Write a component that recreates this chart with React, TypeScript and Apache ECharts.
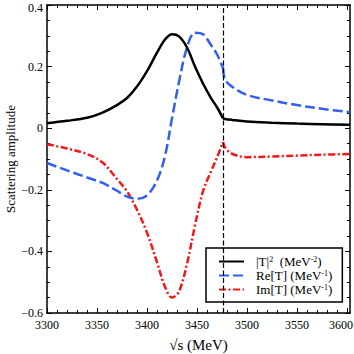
import React, { useEffect, useRef } from "react";
import * as echarts from "echarts";

// Energy grid (MeV) and amplitudes
const energy = [3300, 3320, 3340, 3355, 3370, 3380, 3390, 3400, 3410, 3418, 3425, 3432, 3440, 3448, 3456, 3464, 3470, 3476, 3478, 3485, 3500, 3525, 3550, 3575, 3603];
const absT2 = [0.016, 0.024, 0.034, 0.05, 0.075, 0.098, 0.135, 0.185, 0.245, 0.288, 0.305, 0.298, 0.262, 0.2, 0.145, 0.098, 0.068, 0.032, 0.03, 0.027, 0.022, 0.018, 0.015, 0.013, 0.011];
const reT = [-0.113, -0.137, -0.16, -0.177, -0.203, -0.222, -0.229, -0.218, -0.17, -0.09, 0.032, 0.15, 0.262, 0.31, 0.305, 0.27, 0.24, 0.195, 0.158, 0.135, 0.108, 0.09, 0.075, 0.063, 0.052];
const imT = [-0.052, -0.066, -0.084, -0.11, -0.165, -0.205, -0.265, -0.339, -0.435, -0.515, -0.55, -0.53, -0.44, -0.315, -0.205, -0.14, -0.095, -0.045, -0.062, -0.083, -0.094, -0.092, -0.089, -0.086, -0.084];
const THRESHOLD = 3476;

const xMajorTicks = [3300, 3350, 3400, 3450, 3500, 3550, 3600];
const X_MIN = 3300;
const X_MAX = 3603;
const Y_MIN = -0.6;
const Y_MAX = 0.4;

const names = ["|T|^2", "Re[T]", "Im[T]"];
const legendText: Record<string, string> = {
  "|T|^2": "{g| }{t||T|}{sup|2}{t|  (MeV}{sup|-2}{t|)}",
  "Re[T]": "{g| }{t|Re[T] (MeV}{sup|-1}{t|)}",
  "Im[T]": "{g| }{t|Im[T] (MeV}{sup|-1}{t|)}",
};

const FONT = "Liberation Serif";

export default function App() {
  const ref = useRef<HTMLDivElement>(null);
  useEffect(() => {
    if (!ref.current) return;
    const chart = echarts.init(ref.current, undefined, { renderer: "svg" });

    const low = (arr: number[]) => energy.map((e, i) => [e, arr[i]] as [number, number]).filter((p) => p[0] <= THRESHOLD);
    const high = (arr: number[]) => energy.map((e, i) => [e, arr[i]] as [number, number]).filter((p) => p[0] >= THRESHOLD);

    const xMinor: number[] = [];
    for (let v = X_MIN; v <= 3600; v += 10) if (v % 50 !== 0) xMinor.push(v);

    const styles = [
      { color: "#000000", width: 2.5, type: "solid" as any },
      { color: "#3060f0", width: 2.5, type: [10, 4] as any },
      { color: "#f01818", width: 2.5, type: [7, 2.5, 2, 2.5] as any },
    ];
    const datas = [absT2, reT, imT];
    const series: any[] = [];
    datas.forEach((d, k) => {
      [low(d), high(d)].forEach((seg, j) => {
        series.push({
          type: "line",
          name: names[k],
          data: seg,
          xAxisIndex: 0,
          yAxisIndex: 0,
          smooth: 0.35,
          symbol: "none",
          showSymbol: false,
          color: styles[k].color,
          lineStyle: { ...styles[k] },
          z: 3 - k,
          ...(k === 0 && j === 0
            ? {
                markLine: {
                  silent: true,
                  symbol: "none",
                  label: { show: false },
                  lineStyle: { color: "#000", width: 1.2, type: [5, 2.5] },
                  data: [{ xAxis: THRESHOLD }],
                },
              }
            : {}),
        });
      });
    });

    const axisLine = { show: true, onZero: false, lineStyle: { color: "#000", width: 1.5 } };
    const noLine = { show: false, onZero: false };
    const tickLine = { color: "#000", width: 1 };
    const xBase = { type: "value", min: X_MIN, max: X_MAX, splitLine: { show: false } };
    const yBase = { type: "value", min: Y_MIN, max: Y_MAX, interval: 0.2, splitLine: { show: false } };

    const yFmt = (v: number) => {
      const s = Math.abs(v) < 1e-9 ? "0" : (v < 0 ? "\u2212" : "") + Math.abs(v).toFixed(1);
      return Math.abs(v - Y_MAX) < 1e-9 ? "{top|" + s + "}" : s;
    };

    chart.setOption({
      animation: false,
      backgroundColor: "#ffffff",
      grid: { left: 47, right: 4, top: 5, bottom: 41, containLabel: false, outerBoundsMode: "none" },
      legend: {
        data: names,
        orient: "vertical",
        left: 206,
        top: 248,
        itemWidth: 25,
        itemHeight: 12,
        itemGap: 1,
        padding: [7, 10, 6, 12],
        backgroundColor: "#ffffff",
        borderColor: "#000",
        borderWidth: 1.5,
        borderRadius: 0,
        itemStyle: { opacity: 0, borderWidth: 0 },
        formatter: (n: string) => legendText[n] || n,
        textStyle: {
          fontFamily: FONT,
          color: "#000",
          rich: {
            g: { width: 7, fontSize: 13 },
            t: { fontFamily: FONT, fontSize: 13, color: "#000", lineHeight: 13 },
            sup: { fontFamily: FONT, fontSize: 8, color: "#000", verticalAlign: "top", lineHeight: 9 },
          },
        },
      },
      xAxis: [
        {
          ...xBase,
          position: "bottom",
          axisLine,
          axisTick: { show: true, inside: true, length: 5, lineStyle: tickLine, customValues: xMajorTicks },
          axisLabel: {
            customValues: xMajorTicks,
            fontFamily: FONT,
            fontSize: 12,
            color: "#000",
            margin: 6,
            formatter: (v: number) => (v === 3600 ? "{last|" + v + "}" : String(v)),
            rich: { last: { fontFamily: FONT, fontSize: 12, color: "#000", padding: [0, 12, 0, 0] } },
          },
          name: "√s (MeV)",
          nameLocation: "middle",
          nameGap: 24,
          nameMoveOverlap: false,
          nameTextStyle: { fontFamily: FONT, fontSize: 15, color: "#000" },
        },
        {
          ...xBase,
          position: "bottom",
          axisLine: noLine,
          axisTick: { show: true, inside: true, length: 3, lineStyle: tickLine, customValues: xMinor },
          axisLabel: { show: false },
        },
        {
          ...xBase,
          position: "top",
          axisLine,
          axisTick: { show: true, inside: true, length: 5, lineStyle: tickLine, customValues: xMajorTicks },
          axisLabel: { show: false },
        },
        {
          ...xBase,
          position: "top",
          axisLine: noLine,
          axisTick: { show: true, inside: true, length: 3, lineStyle: tickLine, customValues: xMinor },
          axisLabel: { show: false },
        },
      ],
      yAxis: [
        {
          ...yBase,
          position: "left",
          axisLine,
          axisTick: { show: true, inside: true, length: 5, lineStyle: tickLine },
          minorTick: { show: true, splitNumber: 4, length: 3, lineStyle: tickLine },
          axisLabel: {
            fontFamily: FONT,
            fontSize: 12,
            color: "#000",
            margin: 4,
            formatter: yFmt,
            rich: { top: { fontFamily: FONT, fontSize: 12, color: "#000", padding: [5, 0, 0, 0] } },
          },
          name: "Scattering amplitude",
          nameLocation: "middle",
          nameGap: 30,
          nameMoveOverlap: false,
          nameTextStyle: { fontFamily: FONT, fontSize: 13, color: "#000" },
        },
        {
          ...yBase,
          position: "right",
          axisLine,
          axisTick: { show: true, inside: true, length: 5, lineStyle: tickLine },
          minorTick: { show: true, splitNumber: 4, length: 3, lineStyle: tickLine },
          axisLabel: { show: false },
        },
      ],
      series,
    });
    return () => chart.dispose();
  }, []);
  return <div ref={ref} style={{ width: 354, height: 354, position: "fixed", left: 0, top: 0 }} />;
}
